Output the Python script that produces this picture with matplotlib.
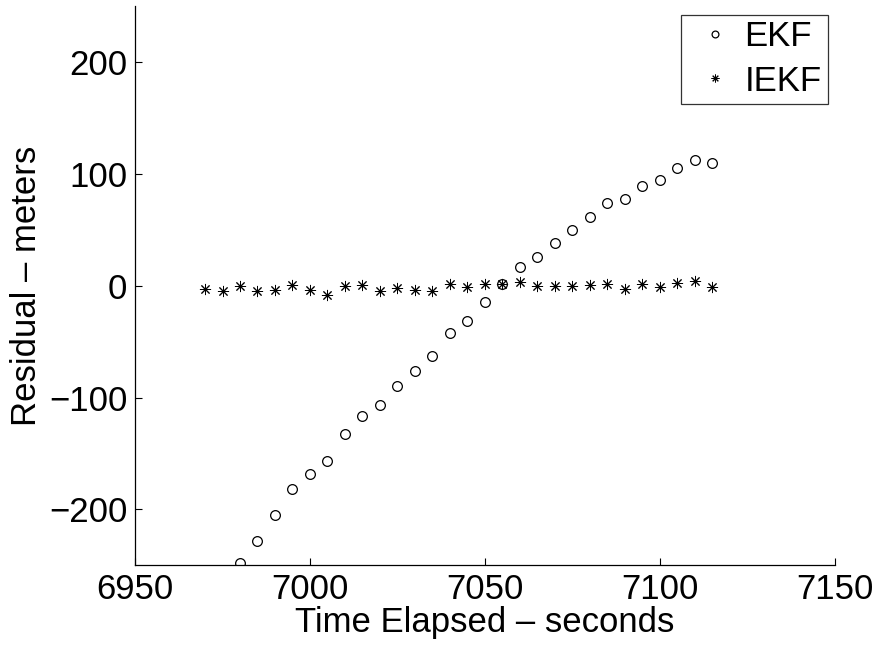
import numpy as np
import matplotlib
matplotlib.use("Agg")
import matplotlib.pyplot as plt

# данные
ekf_t = [6980, 6985, 6990, 6995, 7000, 7005, 7010, 7015, 7020, 7025,
         7030, 7035, 7040, 7045, 7050, 7055, 7060, 7065, 7070, 7075,
         7080, 7085, 7090, 7095, 7100, 7105, 7110, 7115]
ekf_res = [-248.4, -228.0, -205.4, -181.6, -168.2, -156.5, -132.7, -116.6, -106.7, -90.0,
           -76.6, -62.6, -42.3, -31.0, -14.0, 1.8, 17.0, 26.0, 38.2, 50.0,
           62.0, 74.0, 77.8, 89.7, 94.8, 105.3, 112.7, 110.3]

iekf_t = [6970, 6975, 6980, 6985, 6990, 6995, 7000, 7005, 7010, 7015,
          7020, 7025, 7030, 7035, 7040, 7045, 7050, 7055, 7060, 7065,
          7070, 7075, 7080, 7085, 7090, 7095, 7100, 7105, 7110, 7115]
iekf_res = [-2.4, -4.8, 0.0, -4.2, -3.3, 0.6, -3.3, -8.0, 0.0, 0.6,
            -4.2, -2.1, -3.3, -4.2, 1.8, -1.2, 1.5, 1.8, 3.9, 0.0,
            0.0, 0.0, 0.5, 1.5, -2.4, 1.5, -0.6, 3.0, 4.5, -1.2]

x_ticks = [6950, 7000, 7050, 7100, 7150]
y_ticks = [-200, -100, 0, 100, 200]

FS = 25

plt.rcParams['font.family'] = ['Liberation Sans', 'DejaVu Sans']
plt.rcParams['font.size'] = FS

fig = plt.figure(figsize=(8.78, 6.49), dpi=100)
ax = fig.add_axes([0.1538, 0.129, 0.797, 0.861])

ax.plot(ekf_t, ekf_res, linestyle='none', marker='o', markersize=7,
        markerfacecolor='none', markeredgecolor='black', markeredgewidth=0.9,
        label='EKF')
ax.plot(iekf_t, iekf_res, linestyle='none', marker=(8, 2, 0), markersize=8,
        color='black', markeredgewidth=0.7, label='IEKF')

ax.set_xlim(6950, 7150)
ax.set_ylim(-250, 250)
ax.set_xticks(x_ticks)
ax.set_yticks(y_ticks)

for side in ('top', 'right'):
    ax.spines[side].set_visible(False)
for side in ('left', 'bottom'):
    ax.spines[side].set_linewidth(0.9)

ax.tick_params(direction='in', length=5, width=0.8, labelsize=FS, pad=5.5)

ax.set_xlabel('Time Elapsed – seconds', fontsize=FS, labelpad=0)
ax.set_ylabel('Residual – meters', fontsize=FS, labelpad=4)

# легенда в правом верхнем углу
leg = ax.legend(loc='upper right', bbox_to_anchor=(0.9897, 0.9855),
                fontsize=FS, frameon=True, fancybox=False, markerscale=0.7,
                handletextpad=0.06, borderpad=0.17, labelspacing=0.32,
                handlelength=1.6, borderaxespad=0)
leg.get_frame().set_edgecolor('black')
leg.get_frame().set_linewidth(0.9)

fig.savefig('out.png', dpi=100)
